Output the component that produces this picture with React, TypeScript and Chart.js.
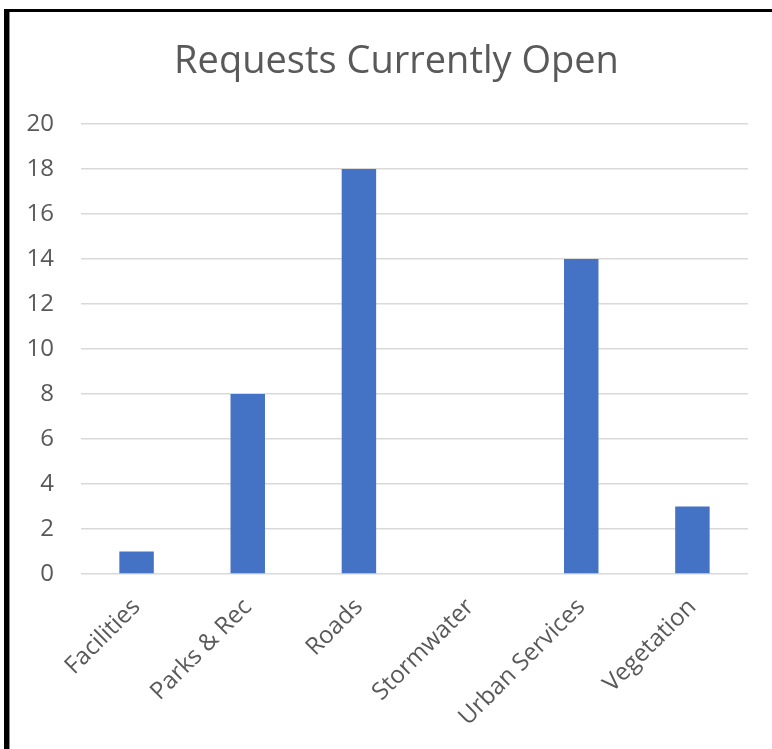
import React, { useEffect, useRef } from "react";
import { Chart, registerables } from "chart.js";

Chart.register(...registerables);

// Open service requests per department
const categories: string[] = [
  "Facilities",
  "Parks & Rec",
  "Roads",
  "Stormwater",
  "Urban Services",
  "Vegetation",
];
const openRequests: number[] = [1, 8, 18, 0, 14, 3];
const yTicks: number[] = [0, 2, 4, 6, 8, 10, 12, 14, 16, 18, 20];

const chartTitle = "Requests Currently Open";
const FONT = "'Open Sans', 'Noto Sans', sans-serif";
const TEXT_GREY = "#595959";
const GRID_GREY = "#d9d9d9";
const BAR_BLUE = "#4472C4";

// Title drawn in the band above the plot, centred a little left of the plot centre
const titlePlugin = {
  id: "centeredTitle",
  afterDraw(chart: any) {
    const { ctx, chartArea } = chart;
    ctx.save();
    ctx.font = `normal 38px ${FONT}`;
    ctx.fillStyle = TEXT_GREY;
    ctx.textAlign = "center";
    ctx.textBaseline = "alphabetic";
    const cx = (chartArea.left + chartArea.right) / 2 - 18;
    ctx.fillText(chartTitle, cx, chartArea.top - 51);
    ctx.restore();
  },
};

export default function App() {
  const canvasRef = useRef<HTMLCanvasElement | null>(null);

  useEffect(() => {
    if (!canvasRef.current) return;
    const chart = new Chart(canvasRef.current, {
      type: "bar",
      data: {
        labels: categories,
        datasets: [
          {
            label: "Open",
            data: openRequests,
            backgroundColor: BAR_BLUE,
            borderWidth: 0,
            categoryPercentage: 1,
            barPercentage: 0.31,
          },
        ],
      },
      plugins: [titlePlugin],
      options: {
        animation: false,
        responsive: false,
        maintainAspectRatio: false,
        layout: { padding: { left: 14, right: 24, top: 124, bottom: 0 } },
        plugins: {
          legend: { display: false },
          tooltip: { enabled: false },
          title: { display: false },
        },
        scales: {
          x: {
            grid: { display: false, drawTicks: false },
            border: { display: false },
            ticks: {
              color: TEXT_GREY,
              font: { family: FONT, size: 24 },
              minRotation: 45,
              maxRotation: 45,
              padding: 19,
              autoSkip: false,
            },
            afterFit: (scale: any) => {
              scale.height = 175;
            },
          },
          y: {
            min: 0,
            max: 20,
            afterBuildTicks: (scale: any) => {
              scale.ticks = yTicks.map((v) => ({ value: v }));
            },
            grid: { color: GRID_GREY, lineWidth: 1.5, drawTicks: false },
            border: { display: false },
            ticks: {
              color: TEXT_GREY,
              font: { family: FONT, size: 24 },
              padding: 27,
            },
            afterFit: (scale: any) => {
              scale.width = 67;
            },
          },
        },
      },
    });
    return () => chart.destroy();
  }, []);

  return (
    <div
      style={{
        position: "absolute",
        left: 0,
        top: 0,
        width: 772,
        height: 749,
        background: "#ffffff",
        overflow: "hidden",
      }}
    >
      <canvas
        ref={canvasRef}
        width={772}
        height={749}
        style={{ position: "absolute", left: 0, top: 0, width: 772, height: 749 }}
      />
      {/* frame: thick black edge on the left and top */}
      <div style={{ position: "absolute", left: 4, top: 9, width: 5, height: 740, background: "#000" }} />
      <div style={{ position: "absolute", left: 9, top: 12, width: 1, height: 737, background: "#8c8c8c" }} />
      <div style={{ position: "absolute", left: 4, top: 9, width: 768, height: 3, background: "#000" }} />
    </div>
  );
}
